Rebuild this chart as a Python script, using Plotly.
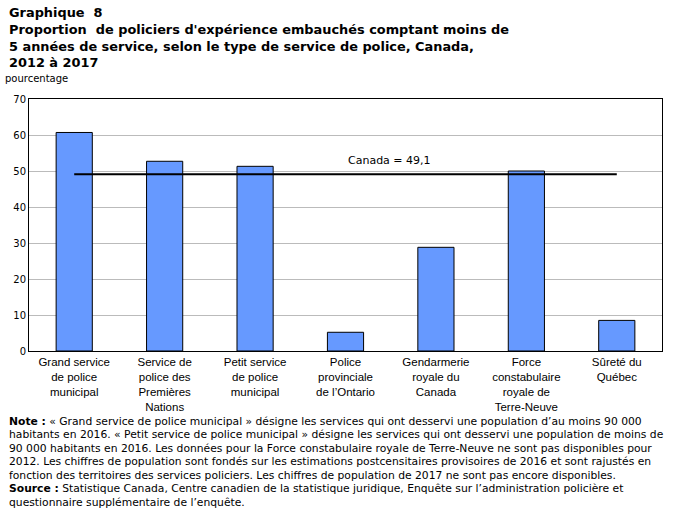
import plotly.graph_objects as go

categories = [
    "Grand service<br>de police<br>municipal",
    "Service de<br>police des<br>Premières<br>Nations",
    "Petit service<br>de police<br>municipal",
    "Police<br>provinciale<br>de l’Ontario",
    "Gendarmerie<br>royale du<br>Canada",
    "Force<br>constabulaire<br>royale de<br>Terre-Neuve",
    "Sûreté du<br>Québec",
]
values = [60.7, 52.7, 51.3, 5.2, 28.8, 50.0, 8.5]
canada_value = 49.1
canada_label = "Canada = 49,1"
y_ticks = [0, 10, 20, 30, 40, 50, 60, 70]

title_text = ("<b>Graphique  8<br>Proportion  de policiers d'expérience embauchés comptant moins de<br>"
              "5 années de service, selon le type de service de police, Canada,<br>2012 à 2017</b>")
note_lines = [
    "<b>Note :</b> « Grand service de police municipal » désigne les services qui ont desservi une population d’au moins 90 000",
    "habitants en 2016. « Petit service de police municipal » désigne les services qui ont desservi une population de moins de",
    "90 000 habitants en 2016. Les données pour la Force constabulaire royale de Terre-Neuve ne sont pas disponibles pour",
    "2012. Les chiffres de population sont fondés sur les estimations postcensitaires provisoires de 2016 et sont rajustés en",
    "fonction des territoires des services policiers. Les chiffres de population de 2017 ne sont pas encore disponibles.",
    "<b>Source :</b> Statistique Canada, Centre canadien de la statistique juridique, Enquête sur l’administration policière et",
    "questionnaire supplémentaire de l’enquête.",
]

PLOT_TOP, PLOT_BOTTOM, PLOT_LEFT, PLOT_W = 99, 351, 29, 633
PH = PLOT_BOTTOM - PLOT_TOP


def py(pixel):
    return (PLOT_BOTTOM - pixel) / PH


def px(pixel):
    return (pixel - PLOT_LEFT) / PLOT_W


fig = go.Figure()
fig.add_trace(go.Bar(
    x=categories, y=values, width=0.4,
    marker=dict(color="#6699FF", line=dict(color="black", width=1)),
    hoverinfo="x+y",
))
fig.add_trace(go.Scatter(
    x=categories, y=[canada_value] * len(categories), mode="lines",
    line=dict(color="black", width=2), hoverinfo="y",
))
fig.add_annotation(
    x=categories[3], y=canada_value + 1.4, text=canada_label, showarrow=False,
    xanchor="left", yanchor="bottom", xshift=0,
    font=dict(family="DejaVu Sans", size=11, color="black"),
)
# title
fig.add_annotation(
    xref="paper", yref="paper", x=px(7), y=py(3), xanchor="left", yanchor="top",
    text=title_text, showarrow=False, align="left",
    font=dict(family="DejaVu Sans", size=12.9, color="black"),
)
fig.add_annotation(
    xref="paper", yref="paper", x=px(3), y=py(78), xanchor="left", yanchor="middle",
    text="pourcentage", showarrow=False, align="left",
    font=dict(family="DejaVu Sans", size=10, color="black"),
)
for i, line in enumerate(note_lines):
    fig.add_annotation(
        xref="paper", yref="paper", x=px(7), y=py(421 + i * 13.5), xanchor="left", yanchor="middle",
        text=line, showarrow=False, align="left",
        font=dict(family="DejaVu Sans", size=10.75, color="black"),
    )

fig.update_layout(
    width=675, height=508,
    margin=dict(l=29, r=13, t=99, b=157),
    paper_bgcolor="white", plot_bgcolor="white",
    showlegend=False,
    xaxis=dict(
        showgrid=False, showline=True, linecolor="black", linewidth=1, mirror=True,
        ticks="", tickfont=dict(family="Liberation Sans", size=11.5, color="black"),
        tickangle=0,
    ),
    yaxis=dict(
        range=[0, 70], tickvals=y_ticks, showgrid=True, gridcolor="#BBBBBB", gridwidth=1,
        showline=True, linecolor="black", linewidth=1, mirror=True, ticks="",
        tickfont=dict(family="DejaVu Sans", size=10, color="black"), zeroline=False,
    ),
)
fig.write_html("out.html")
